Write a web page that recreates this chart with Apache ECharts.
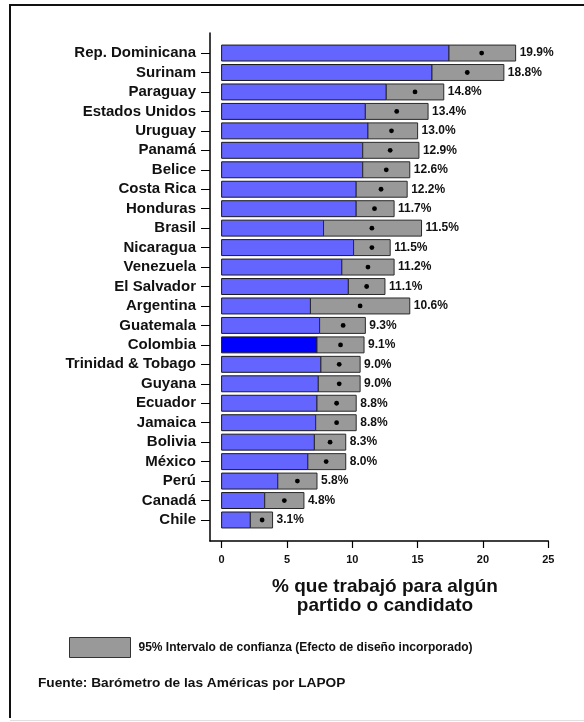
<!DOCTYPE html>
<html>
<head>
<meta charset="utf-8">
<script src="https://cdn.jsdelivr.net/npm/echarts@6/dist/echarts.min.js"></script>
<style>
  html, body { margin: 0; padding: 0; background: #fff; }
  #chart { width: 584px; height: 722px; }
</style>
</head>
<body>
<div id="chart"></div>
<script>
// Countries, ordered top to bottom
const countries = [
  'Rep. Dominicana', 'Surinam', 'Paraguay', 'Estados Unidos', 'Uruguay', 'Panamá',
  'Belice', 'Costa Rica', 'Honduras', 'Brasil', 'Nicaragua', 'Venezuela',
  'El Salvador', 'Argentina', 'Guatemala', 'Colombia', 'Trinidad & Tobago',
  'Guyana', 'Ecuador', 'Jamaica', 'Bolivia', 'México', 'Perú', 'Canadá', 'Chile'
];
// Estimated share (%) that worked for a party or candidate
const means = [19.9, 18.8, 14.8, 13.4, 13.0, 12.9, 12.6, 12.2, 11.7, 11.5, 11.5, 11.2,
  11.1, 10.6, 9.3, 9.1, 9.0, 9.0, 8.8, 8.8, 8.3, 8.0, 5.8, 4.8, 3.1];
// 95% confidence interval bounds
const lower = [17.4, 16.1, 12.6, 11.0, 11.2, 10.8, 10.8, 10.3, 10.3, 7.8, 10.1, 9.2,
  9.7, 6.8, 7.5, 7.3, 7.6, 7.4, 7.3, 7.2, 7.1, 6.6, 4.3, 3.3, 2.2];
const upper = [22.5, 21.6, 17.0, 15.8, 15.0, 15.1, 14.4, 14.2, 13.2, 15.3, 12.9, 13.2,
  12.5, 14.4, 11.0, 10.9, 10.6, 10.6, 10.3, 10.3, 9.5, 9.5, 7.3, 6.3, 3.9];
const highlighted = 'Colombia';
const xTicks = [0, 5, 10, 15, 20, 25];

const ciName = '95% Intervalo de confianza (Efecto de diseño incorporado)';
const FONT = '"Liberation Sans", Arial, Helvetica, sans-serif';

const rows = countries.map((c, i) => [i, lower[i], upper[i], means[i]]);
const rowIdx = countries.map((c, i) => i);

const chart = echarts.init(document.getElementById('chart'), null, { renderer: 'canvas' });

chart.setOption({
  animation: false,
  backgroundColor: '#fff',
  textStyle: { fontFamily: FONT },
  grid: { left: 210, right: 35.7, top: 33, bottom: 181, containLabel: false },
  title: {
    text: 'Fuente: Barómetro de las Américas por LAPOP',
    left: 38, top: 676, padding: 0,
    textStyle: { fontSize: 13.7, fontWeight: 'bold', color: '#111', fontFamily: FONT }
  },
  legend: {
    data: [{ name: ciName, icon: 'rect' }],
    left: 69, top: 637, padding: 0,
    itemWidth: 61, itemHeight: 20,
    itemStyle: { color: '#999999', borderColor: '#333', borderWidth: 1 },
    textStyle: { fontSize: 12, fontWeight: 'bold', color: '#111', fontFamily: FONT, padding: [0, 0, 0, 3] },
    selectedMode: false
  },
  xAxis: {
    type: 'value', min: -0.888, max: 25,
    axisLine: { show: true, onZero: false, lineStyle: { color: '#000', width: 1.5 } },
    axisTick: { show: true, length: 7, customValues: xTicks, lineStyle: { color: '#000', width: 1.2 } },
    axisLabel: {
      customValues: xTicks, margin: 13, fontSize: 11, fontWeight: 'bold', color: '#111', fontFamily: FONT
    },
    splitLine: { show: false }
  },
  yAxis: {
    type: 'value', inverse: true, min: -1.03, max: 25.08,
    axisLine: { show: true, onZero: false, lineStyle: { color: '#000', width: 1.5 } },
    axisTick: { show: true, length: 9, customValues: rowIdx, lineStyle: { color: '#000', width: 1 } },
    axisLabel: {
      customValues: rowIdx,
      formatter: v => countries[Math.round(v)] || '',
      margin: 14, fontSize: 15, fontWeight: 'bold', color: '#111', fontFamily: FONT
    },
    splitLine: { show: false }
  },
  graphic: [
    // page frame
    { type: 'line', shape: { x1: 10, y1: 5, x2: 584, y2: 5 }, style: { stroke: '#111', lineWidth: 2 } },
    { type: 'line', shape: { x1: 10, y1: 4, x2: 10, y2: 718 }, style: { stroke: '#111', lineWidth: 2 } },
    { type: 'line', shape: { x1: 10, y1: 720.5, x2: 584, y2: 720.5 }, style: { stroke: '#e0e0e0', lineWidth: 1 } },
    // x-axis title
    {
      type: 'text', x: 385, y: 577,
      style: {
        text: '% que trabajó para algún\npartido o candidato',
        textAlign: 'center', fill: '#111', lineHeight: 19,
        font: 'bold 19px ' + FONT
      }
    }
  ],
  series: [{
    name: ciName,
    type: 'custom',
    itemStyle: { color: '#999999' },
    encode: { x: [1, 2, 3], y: 0 },
    data: rows,
    renderItem: function (params, api) {
      const i = api.value(0);
      const lo = api.value(1), hi = api.value(2), m = api.value(3);
      const p0 = api.coord([0, i]);
      const pLo = api.coord([lo, i]);
      const pHi = api.coord([hi, i]);
      const pM = api.coord([m, i]);
      const h = api.size([0, 1])[1] * 0.82;
      const isHi = countries[i] === highlighted;
      return {
        type: 'group',
        children: [
          {
            type: 'rect',
            shape: { x: p0[0], y: p0[1] - h / 2, width: pLo[0] - p0[0], height: h },
            style: { fill: isHi ? '#0000ff' : '#6464ff', stroke: '#1a1a1a', lineWidth: 1 }
          },
          {
            type: 'rect',
            shape: { x: pLo[0], y: pLo[1] - h / 2, width: pHi[0] - pLo[0], height: h },
            style: { fill: '#999999', stroke: '#2a2a2a', lineWidth: 1 }
          },
          {
            type: 'circle',
            shape: { cx: pM[0], cy: pM[1], r: 2.4 },
            style: { fill: '#000' }
          },
          {
            type: 'text',
            x: pHi[0] + 4, y: pHi[1],
            style: {
              text: m.toFixed(1) + '%',
              textVerticalAlign: 'middle', textAlign: 'left',
              fill: '#111', font: 'bold 12px ' + FONT
            }
          }
        ]
      };
    }
  }]
});
</script>
</body>
</html>
